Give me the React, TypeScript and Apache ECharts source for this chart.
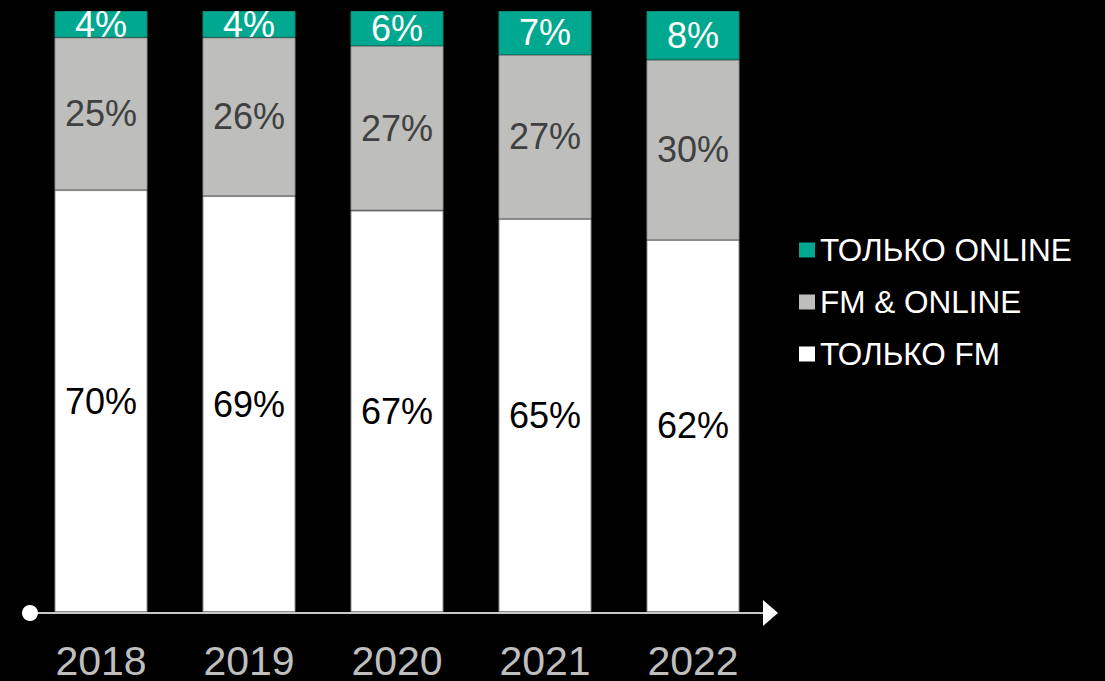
import React, { useEffect, useRef } from "react";
import * as echarts from "echarts";

const years = ["2018", "2019", "2020", "2021", "2022"];
const onlyFm = [70.2, 69.2, 66.8, 65.4, 61.9];
const fmAndOnline = [25.4, 26.4, 27.4, 27.3, 30.0];
const onlyOnline = [4.4, 4.4, 5.8, 7.3, 8.1];

const NAME_FM = "ТОЛЬКО FM";
const NAME_BOTH = "FM & ONLINE";
const NAME_ONLINE = "ТОЛЬКО ONLINE";

const FONT = "Arial, 'Liberation Sans', sans-serif";

export default function App() {
  const ref = useRef<HTMLDivElement>(null);

  useEffect(() => {
    if (!ref.current) return;
    const chart = echarts.init(ref.current, null, { renderer: "svg" });
    const pct = (p: any) => Math.round(p.value) + "%";
    const mk = (name: string, data: number[], color: string, border: string, labelColor: string) => ({
      name,
      type: "bar",
      stack: "total",
      data,
      barWidth: 93,
      itemStyle: { color, borderColor: border, borderWidth: 1 },
      label: {
        show: true,
        position: "inside",
        formatter: pct,
        color: labelColor,
        fontSize: 36,
        fontFamily: FONT,
      },
    });
    chart.setOption({
      animation: false,
      backgroundColor: "#000000",
      grid: { left: 27, width: 740, top: 11, bottom: 69, containLabel: false },
      xAxis: {
        type: "category",
        data: years,
        axisLine: { show: false },
        axisTick: { show: false },
        axisLabel: { color: "#bfbfbf", fontSize: 41, fontFamily: FONT, margin: 28 },
      },
      yAxis: { type: "value", min: 0, max: 100, show: false },
      legend: {
        orient: "vertical",
        left: 794,
        top: 229,
        itemWidth: 16,
        itemHeight: 15,
        itemGap: 20,
        icon: "rect",
        data: [NAME_ONLINE, NAME_BOTH, NAME_FM],
        itemStyle: { borderWidth: 0 },
        textStyle: { color: "#ffffff", fontSize: 31.5, fontFamily: FONT },
      },
      graphic: [
        {
          type: "line",
          shape: { x1: 30, y1: 613, x2: 768, y2: 613 },
          style: { stroke: "#c8c8c8", lineWidth: 2 },
        },
        {
          type: "circle",
          shape: { cx: 30, cy: 613, r: 8 },
          style: { fill: "#ffffff" },
        },
        {
          type: "polygon",
          shape: { points: [[763, 600], [778, 613], [763, 626]] },
          style: { fill: "#ffffff" },
        },
      ],
      series: [
        mk(NAME_FM, onlyFm, "#ffffff", "#8c8c8c", "#000000"),
        mk(NAME_BOTH, fmAndOnline, "#bebebc", "#8c8c8c", "#404040"),
        mk(NAME_ONLINE, onlyOnline, "#00a88f", "#0b8a76", "#ffffff"),
      ],
    });
    return () => chart.dispose();
  }, []);

  return (
    <div
      ref={ref}
      style={{ position: "fixed", left: 0, top: 0, width: 1105, height: 681, background: "#000" }}
    />
  );
}
